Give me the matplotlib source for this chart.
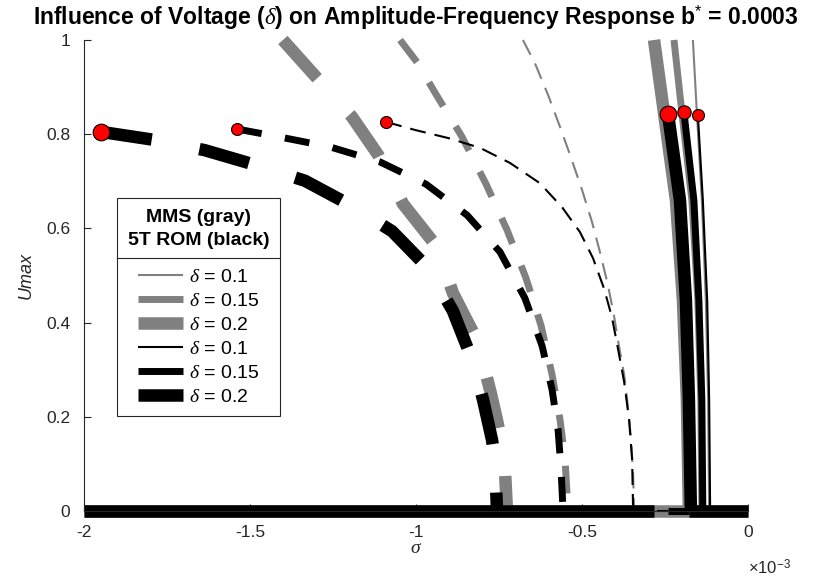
import matplotlib

matplotlib.use("Agg")
import matplotlib.pyplot as plt
from matplotlib.lines import Line2D
from matplotlib.ticker import FuncFormatter, MultipleLocator

plt.rcParams["font.family"] = ["Liberation Sans", "DejaVu Sans"]
plt.rcParams["mathtext.fontset"] = "custom"
plt.rcParams["mathtext.it"] = "Liberation Serif:italic"
plt.rcParams["mathtext.rm"] = "Liberation Sans"
plt.rcParams["axes.unicode_minus"] = False
plt.rcParams["lines.scale_dashes"] = False

# sigma values are in units of 1e-3 (as on the axis)
SCALE = 1e-3

# MMS (gray) -- left, dashed branches
mms_01_dash_sig = [-0.678, -0.642, -0.602, -0.566, -0.536, -0.500, -0.470, -0.446,
                   -0.422, -0.404, -0.389, -0.373, -0.364, -0.352, -0.346, -0.343]
mms_01_dash_u = [1.0, 0.951, 0.883, 0.815, 0.756, 0.682, 0.614, 0.550,
                 0.480, 0.416, 0.352, 0.289, 0.236, 0.151, 0.076, 0.0]
mms_015_dash_sig = [-1.048, -0.997, -0.940, -0.861, -0.789, -0.726, -0.669,
                    -0.623, -0.590, -0.566, -0.551, -0.542]
mms_015_dash_u = [1.0, 0.953, 0.885, 0.794, 0.694, 0.597, 0.495,
                  0.393, 0.289, 0.193, 0.108, 0.0]
mms_02_dash_sig = [-1.401, -1.298, -1.193, -1.114, -1.039, -0.937, -0.889, -0.852,
                   -0.816, -0.777, -0.756, -0.741, -0.732, -0.726]
mms_02_dash_u = [1.0, 0.919, 0.837, 0.756, 0.652, 0.561, 0.463, 0.412,
                 0.363, 0.257, 0.193, 0.140, 0.087, 0.0]

# 5T ROM (black) -- left, dashed branches
rom_01_dash_sig = [-1.090, -1.003, -0.904, -0.807, -0.717, -0.627, -0.560, -0.506,
                   -0.467, -0.434, -0.410, -0.392, -0.373, -0.358, -0.349, -0.346]
rom_01_dash_u = [0.826, 0.809, 0.792, 0.771, 0.739, 0.696, 0.645, 0.592,
                 0.537, 0.473, 0.412, 0.346, 0.274, 0.193, 0.108, 0.0]
rom_015_dash_sig = [-1.539, -1.410, -1.259, -1.108, -0.970, -0.846, -0.747,
                    -0.672, -0.620, -0.590, -0.572, -0.563, -0.557]
rom_015_dash_u = [0.811, 0.794, 0.773, 0.741, 0.694, 0.628, 0.550,
                  0.452, 0.350, 0.257, 0.172, 0.087, 0.0]
rom_02_dash_sig = [-1.949, -1.789, -1.636, -1.485, -1.334, -1.199, -1.072,
                   -0.964, -0.889, -0.828, -0.798, -0.771, -0.762, -0.756]
rom_02_dash_u = [0.805, 0.788, 0.766, 0.735, 0.701, 0.650, 0.594,
                 0.516, 0.425, 0.316, 0.236, 0.151, 0.108, 0.0]

# right, solid branches
mms_01_solid_sig = [-0.166, -0.154, -0.139, -0.127, -0.120, -0.117]
mms_015_solid_sig = [-0.223, -0.199, -0.169, -0.151, -0.142, -0.139]
mms_02_solid_sig = [-0.283, -0.253, -0.217, -0.196, -0.184, -0.178]
mms_solid_u = [1.0, 0.845, 0.660, 0.448, 0.236, 0.0]
rom_01_solid_sig = [-0.151, -0.136, -0.123, -0.117, -0.114]
rom_015_solid_sig = [-0.193, -0.163, -0.148, -0.139, -0.136]
rom_02_solid_sig = [-0.241, -0.205, -0.187, -0.178, -0.172]
rom_01_solid_u = [0.841, 0.660, 0.448, 0.236, 0.0]
rom_015_solid_u = [0.847, 0.660, 0.448, 0.236, 0.0]
rom_02_solid_u = [0.843, 0.660, 0.448, 0.236, 0.0]

# trivial (U = 0) branches
mms_zero_sig = [-2.0, 0.0]
rom_02_zero_left = [-2.0, -0.283]
rom_02_zero_right = [-0.178, 0.0]
rom_01_zero_sig = [-0.275, -0.240]
rom_015_zero_sig = [-0.240, -0.178]

# saddle-node points (red)
sn_left_sig = [-1.090, -1.539, -1.949]
sn_left_u = [0.826, 0.811, 0.805]
sn_right_sig = [-0.151, -0.193, -0.241]
sn_right_u = [0.841, 0.847, 0.843]
sn_left_size = [8.6, 8.6, 12.0]
sn_right_size = [8.6, 9.6, 12.0]

delta_labels = ["0.1", "0.15", "0.2"]

GRAY = "#808080"
AXC = "#262626"
LW = [1.5, 5.0, 9.0]


def sc(v):
    return [x * SCALE for x in v]


fig = plt.figure(figsize=(8.21, 5.81), dpi=100)
ax = fig.add_axes([84 / 821, 70 / 581, 664 / 821, 471 / 581])

kw = dict(solid_capstyle="butt", dash_capstyle="butt", clip_on=False)

# gray MMS curves
ax.plot(sc(mms_zero_sig), [0, 0], color=GRAY, lw=LW[2], **kw)
gray_dash = [(0, (12, 7)), (0, (20, 17)), (0, (37, 35))]
for sig, u, lw, ls in zip([mms_01_dash_sig, mms_015_dash_sig, mms_02_dash_sig],
                          [mms_01_dash_u, mms_015_dash_u, mms_02_dash_u], LW, gray_dash):
    ax.plot(sc(sig), u, color=GRAY, lw=lw, ls=ls, **kw)
for sig, lw in zip([mms_02_solid_sig, mms_015_solid_sig, mms_01_solid_sig], LW[::-1]):
    ax.plot(sc(sig), mms_solid_u, color=GRAY, lw=lw, **kw)

# black ROM curves
ax.plot(sc(rom_02_zero_left), [0, 0], color="k", lw=LW[2], **kw)
ax.plot(sc(rom_02_zero_right), [0, 0], color="k", lw=LW[2], **kw)
ax.plot(sc(rom_01_zero_sig), [0, 0], color="k", lw=LW[0], **kw)
ax.plot(sc(rom_015_zero_sig), [0, 0], color="k", lw=LW[1], **kw)
black_dash = [(0, (11.5, 6.5)), (0, (18, 17)), (0, (37, 35))]
for sig, u, lw, ls in zip([rom_01_dash_sig, rom_015_dash_sig, rom_02_dash_sig],
                          [rom_01_dash_u, rom_015_dash_u, rom_02_dash_u], LW, black_dash):
    ax.plot(sc(sig), u, color="k", lw=lw, ls=ls, **kw)
for sig, u, lw in zip([rom_02_solid_sig, rom_015_solid_sig, rom_01_solid_sig],
                      [rom_02_solid_u, rom_015_solid_u, rom_01_solid_u], LW[::-1]):
    ax.plot(sc(sig), u, color="k", lw=lw, **kw)

# saddle-node markers
for s, u, ms in zip(sn_left_sig + sn_right_sig, sn_left_u + sn_right_u,
                    sn_left_size + sn_right_size):
    ax.plot(s * SCALE, u, "o", ms=ms, mfc="red", mec="k", mew=0.8, clip_on=False, zorder=5)

ax.set_xlim(-2 * SCALE, 0)
ax.set_ylim(0, 1)
ax.xaxis.set_major_locator(MultipleLocator(0.5 * SCALE))
ax.yaxis.set_major_locator(MultipleLocator(0.2))
ax.xaxis.set_major_formatter(FuncFormatter(lambda v, p: "%g" % round(v / SCALE, 6)))
ax.yaxis.set_major_formatter(FuncFormatter(lambda v, p: "%g" % round(v, 6)))
for side in ["top", "right"]:
    ax.spines[side].set_visible(False)
for side in ["left", "bottom"]:
    ax.spines[side].set_color(AXC)
    ax.spines[side].set_linewidth(0.8)
ax.tick_params(direction="in", length=5, width=0.8, colors=AXC, labelsize=12.5)
ax.tick_params(axis="x", pad=10)
ax.tick_params(axis="y", pad=10)
ax.text(1.0, -0.121, r"$\times$10$^{-3}$", transform=ax.transAxes, fontsize=12,
        color=AXC, ha="left", va="center")

ax.set_xlabel(r"$\sigma$", fontsize=14, color=AXC, labelpad=0)
ax.set_ylabel("Umax", fontsize=13, style="italic", color=AXC, labelpad=8)
ax.set_title(r"Influence of Voltage ($\delta$) on Amplitude-Frequency Response b$^{*}$ = 0.0003",
             fontsize=16.5, fontweight="bold", pad=11)

handles = []
labels = []
for col in [GRAY, "k"]:
    for lw, d in zip(LW, delta_labels):
        handles.append(Line2D([], [], color=col, lw=lw, solid_capstyle="butt"))
        labels.append(r"$\delta$ = " + d)
leg = ax.legend(handles, labels, loc="upper left", bbox_to_anchor=(0.0497, 0.6645),
                borderaxespad=0, fancybox=False, framealpha=1, edgecolor=AXC,
                fontsize=14, title="MMS (gray)\n5T ROM (black)",
                title_fontproperties={"weight": "bold", "size": 14},
                handlelength=2.3, handletextpad=0.3, labelspacing=0.33,
                borderpad=0.55, alignment="center")
leg.get_title().set_multialignment("center")
leg.get_title().set_linespacing(1.45)
leg._legend_box.sep = 14
leg.get_frame().set_linewidth(0.8)

# divider between legend title and entries
fig.canvas.draw()
r = fig.canvas.get_renderer()
lb = leg.get_window_extent(r)
tb = leg.get_title().get_window_extent(r)
hb = leg._legend_handle_box.get_window_extent(r)
ymid = 0.5 * (tb.y0 + hb.y1)
inv = fig.transFigure.inverted()
(x0, yd), (x1, _) = inv.transform([(lb.x0, ymid), (lb.x1, ymid)])
fig.add_artist(Line2D([x0, x1], [yd, yd], color=AXC, lw=0.8, zorder=10))

fig.savefig("out.png", dpi=100)
